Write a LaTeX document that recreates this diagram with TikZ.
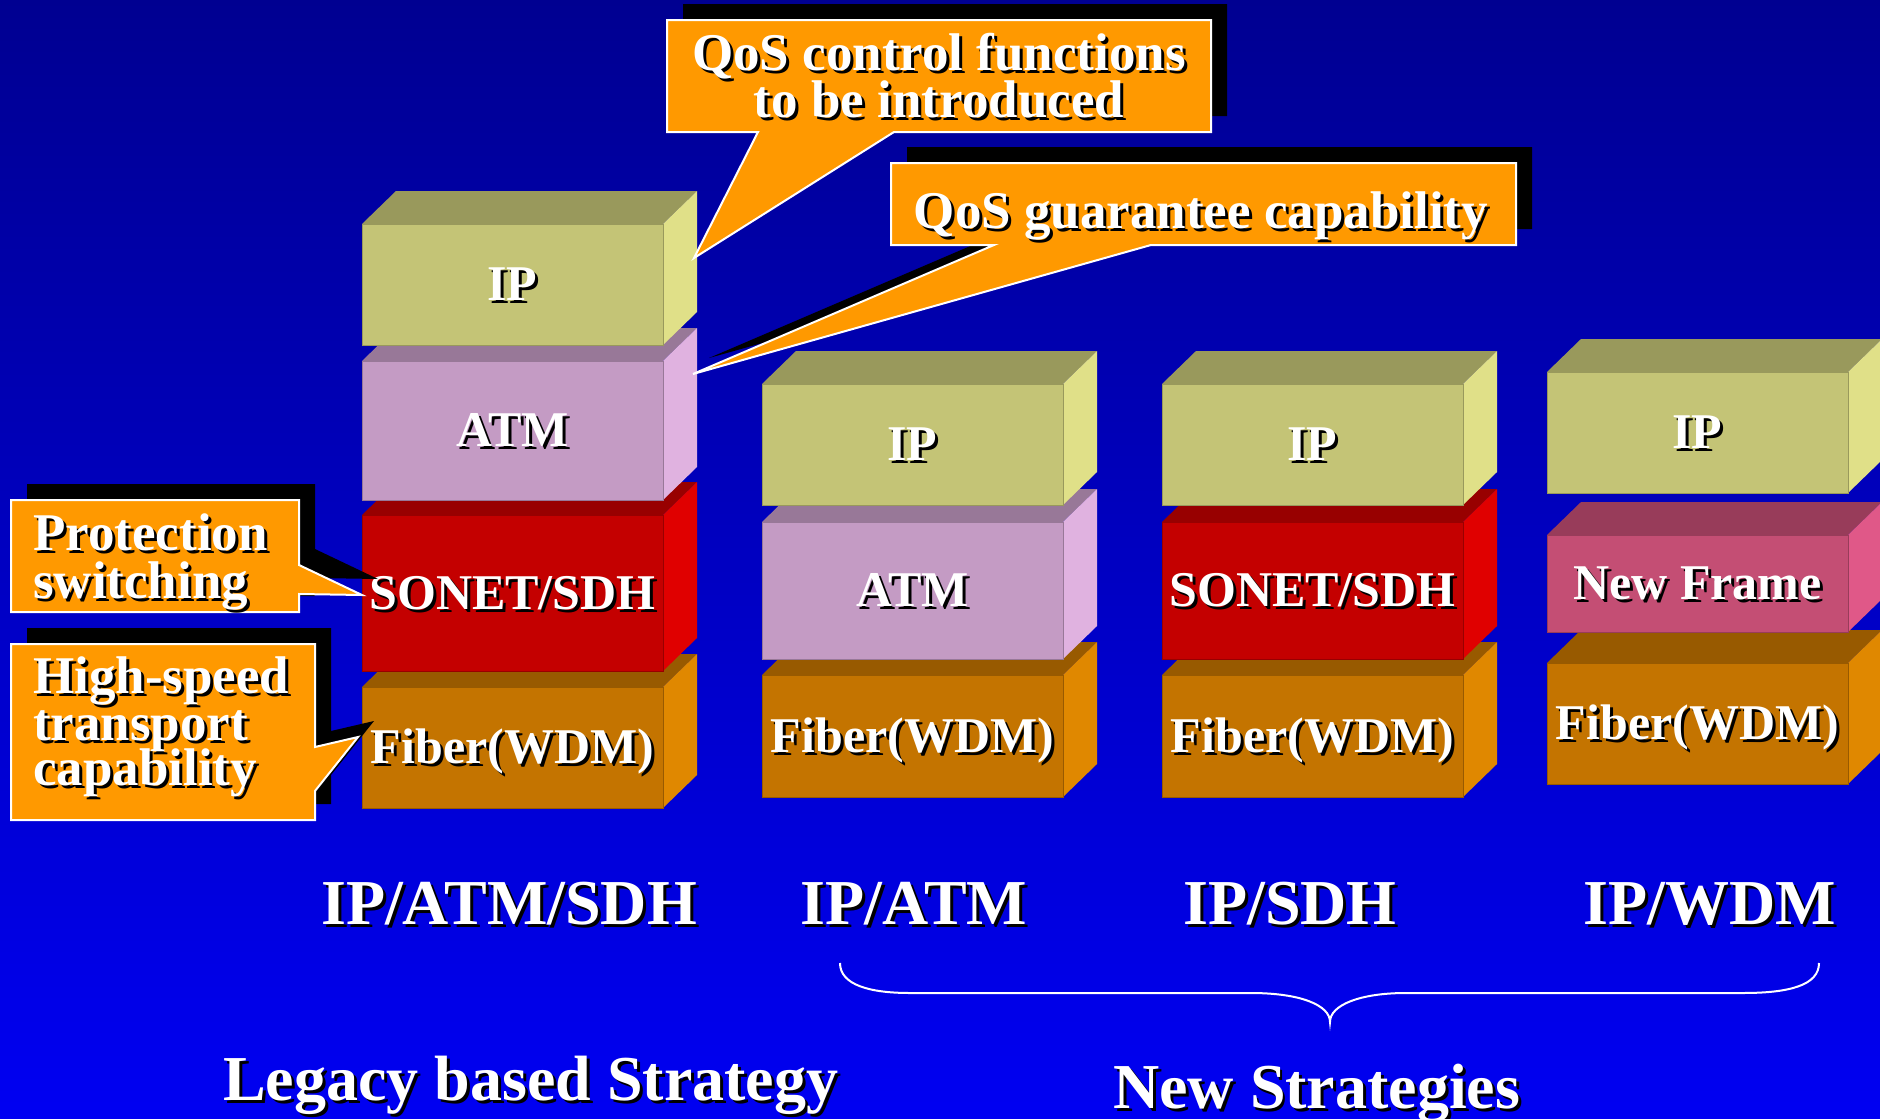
\documentclass[tikz,border=0pt]{standalone}
\usepackage{fontspec}
\setmainfont{Liberation Serif}

% layer colours: F = front, T = top, R = right side
\definecolor{ipF}{RGB}{196,196,118}
\definecolor{ipT}{RGB}{153,153,92}
\definecolor{ipR}{RGB}{224,224,136}
\definecolor{atmF}{RGB}{196,155,196}
\definecolor{atmT}{RGB}{152,120,152}
\definecolor{atmR}{RGB}{224,178,224}
\definecolor{sdhF}{RGB}{196,0,0}
\definecolor{sdhT}{RGB}{152,0,0}
\definecolor{sdhR}{RGB}{224,0,0}
\definecolor{wdmF}{RGB}{196,116,0}
\definecolor{wdmT}{RGB}{152,90,0}
\definecolor{wdmR}{RGB}{224,136,0}
\definecolor{nfF}{RGB}{196,78,116}
\definecolor{nfT}{RGB}{152,60,90}
\definecolor{nfR}{RGB}{224,88,136}
\definecolor{calloutfill}{RGB}{255,153,0}
\definecolor{bgtop}{RGB}{0,0,145}
\definecolor{bgbot}{RGB}{0,0,242}

% white text with a black drop shadow
\newcommand\shl[1]{\rlap{\kern3pt\raisebox{-3pt}{\color{black}#1}}#1}

% one 3-D layer: name, left x, front top y, front bottom y, colour prefix, label
\newcommand\layer[6]{%
  \fill[#5T] (#2,#3) -- ++(34,-33) -- ++(301,0) -- ++(-34,33) -- cycle;
  \fill[#5R] (#2+301,#3) -- ++(34,-33) -- (#2+335,#4-33) -- (#2+301,#4) -- cycle;
  \filldraw[fill=#5F, draw=#5T, line width=1pt] (#2,#3) rectangle (#2+301,#4);
  \node[lbl] (#1) at (#2+150.5,{(#3+#4)/2+16}) {\shl{#6}};
}

% callout with its offset black shadow
\newcommand\callout[1]{%
  \fill[black, shift={(16,-16)}] #1;
  \filldraw[fill=calloutfill, draw=white, line width=2pt, line join=miter] #1;
}

\tikzset{
  lbl/.style={text=white, inner sep=0pt, anchor=base,
    font=\fontsize{50}{56}\selectfont\bfseries},
  ctext/.style={text=white, inner sep=0pt, anchor=base,
    font=\fontsize{53}{58}\selectfont\bfseries},
  bigtext/.style={text=white, inner sep=0pt, anchor=base,
    font=\fontsize{64}{72}\selectfont\bfseries},
}

\begin{document}
\begin{tikzpicture}[x={(1pt,0)}, y={(0,-1pt)}]
\path[use as bounding box] (0,0) rectangle (1880,1119);
\clip (0,0) rectangle (1880,1119);
\shade[top color=bgtop, bottom color=bgbot] (0,0) rectangle (1880,1119);

% IP/ATM/SDH stack
\layer{sA4}{362}{687}{808}{wdm}{Fiber(WDM)}
\layer{sA3}{362}{515}{671}{sdh}{SONET/SDH}
\layer{sA2}{362}{361}{500}{atm}{ATM}
\layer{sA1}{362}{224}{345}{ip}{IP}

% IP/ATM stack
\layer{sB3}{762}{675}{797}{wdm}{Fiber(WDM)}
\layer{sB2}{762}{522}{659}{atm}{ATM}
\layer{sB1}{762}{384}{505}{ip}{IP}

% IP/SDH stack
\layer{sC3}{1162}{675}{797}{wdm}{Fiber(WDM)}
\layer{sC2}{1162}{522}{659}{sdh}{SONET/SDH}
\layer{sC1}{1162}{384}{505}{ip}{IP}

% IP/WDM stack
\layer{sD3}{1547}{663}{784}{wdm}{Fiber(WDM)}
\layer{sD2}{1547}{535}{632}{nf}{New Frame}
\layer{sD1}{1547}{372}{493}{ip}{IP}

% callouts
\callout{(667,20) -- (1211,20) -- (1211,132) -- (894,132) -- (694,258) -- (758,132) -- (667,132) -- cycle}
\node[ctext] (qa1) at (939,70) {\shl{QoS control functions}};
\node[ctext] (qa2) at (939,117) {\shl{to be introduced}};

\callout{(891,163) -- (1516,163) -- (1516,245) -- (1151,245) -- (693,374) -- (994,245) -- (891,245) -- cycle}
\node[ctext] (qb) at (1201,228) {\shl{QoS guarantee capability}};

\callout{(11,500) -- (299,500) -- (299,565) -- (362,595) -- (299,594) -- (299,612) -- (11,612) -- cycle}
\node[ctext, anchor=base west] (pa1) at (33,550) {\shl{Protection}};
\node[ctext, anchor=base west] (pa2) at (33,598) {\shl{switching}};

\callout{(11,644) -- (315,644) -- (315,747) -- (358,737) -- (315,791) -- (315,820) -- (11,820) -- cycle}
\node[ctext, anchor=base west] (hs1) at (33,693) {\shl{High-speed}};
\node[ctext, anchor=base west] (hs2) at (33,740) {\shl{transport}};
\node[ctext, anchor=base west] (hs3) at (33,785) {\shl{capability}};

% stack names
\node[bigtext] (nA) at (509,924) {\shl{IP/ATM/SDH}};
\node[bigtext] (nB) at (914,924) {\shl{IP/ATM}};
\node[bigtext] (nC) at (1290,924) {\shl{IP/SDH}};
\node[bigtext] (nD) at (1710,924) {\shl{IP/WDM}};

% brace over the new strategies
\draw[white, line width=2pt] (840,963) .. controls (840,985) and (870,993) .. (910,993)
  -- (1251,993) .. controls (1300,993) and (1330,1005) .. (1330,1022)
  .. controls (1330,1005) and (1360,993) .. (1406,993)
  -- (1743,993) .. controls (1790,993) and (1819,985) .. (1819,963);

\node[bigtext, anchor=base west] (legacy) at (223,1100) {\shl{Legacy based Strategy}};
\node[bigtext, anchor=base west] (newstr) at (1113,1108) {\shl{New Strategies}};
\end{tikzpicture}
\end{document}
